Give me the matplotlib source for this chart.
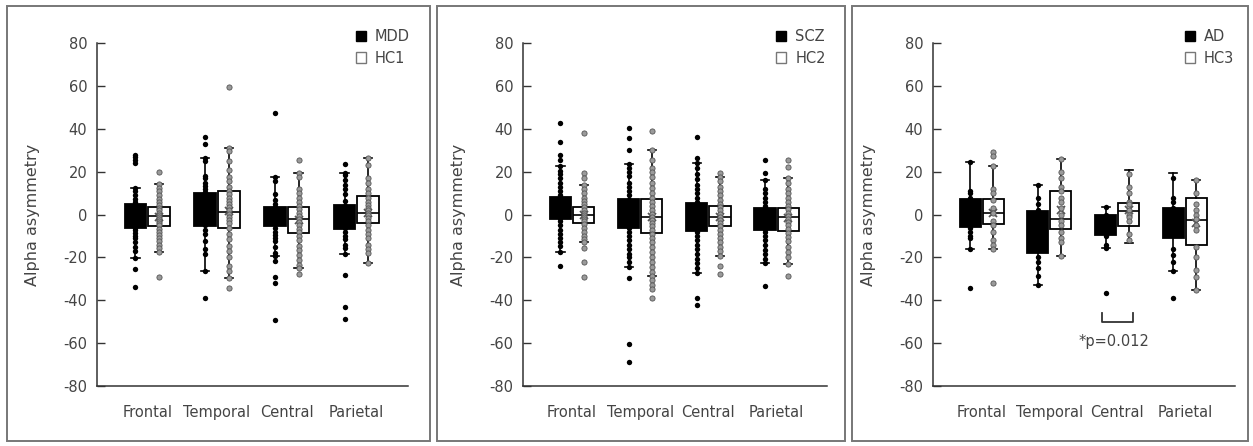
import matplotlib
matplotlib.use("Agg")
import matplotlib.pyplot as plt
from matplotlib.patches import Patch, Rectangle

plt.rcParams['font.family'] = ['DejaVu Sans']
plt.rcParams['axes.unicode_minus'] = False

REGIONS = ["Frontal", "Temporal", "Central", "Parietal"]

# box stats per region: (whisker low, q1, median, q3, whisker high, mean)
MDD_BOX = [(-20.1, -6.1, -0.5, 5.0, 12.6, -0.5), (-26.1, -5.1, 2.0, 10.0, 26.3, 2.0),
           (-19.4, -5.5, -1.0, 3.8, 17.4, -2.0), (-18.6, -6.5, -1.0, 4.4, 19.3, -2.0)]
HC1_BOX = [(-17.6, -5.1, -0.6, 3.4, 14.2, -1.0), (-29.7, -6.4, 1.1, 11.0, 31.3, 1.5),
           (-25.0, -8.5, -2.2, 3.8, 19.5, -2.5), (-22.5, -4.1, 0.6, 8.5, 26.5, 1.0)]
SCZ_BOX = [(-17.6, -2.0, 3.0, 8.4, 22.7, 4.0), (-24.3, -6.2, 0.5, 7.2, 23.5, 0.0),
           (-27.1, -7.8, -1.0, 5.6, 24.0, -1.0), (-22.7, -7.2, -2.0, 3.0, 16.2, -2.0)]
HC2_BOX = [(-12.9, -3.7, -0.2, 3.7, 13.9, 0.0), (-28.6, -8.4, -1.1, 7.2, 30.2, -1.0),
           (-19.1, -5.3, -1.1, 4.2, 17.7, -1.0), (-23.2, -7.8, -1.1, 3.0, 17.0, -1.5)]
AD_BOX = [(-16.0, -5.8, 1.0, 7.5, 24.7, 1.0), (-32.8, -17.8, -8.0, 1.7, 13.8, -8.0),
          (-15.7, -9.5, -5.0, -0.3, 3.4, -6.0), (-26.1, -11.1, -4.0, 3.3, 19.3, -4.0)]
HC3_BOX = [(-16.0, -4.5, 0.6, 7.5, 22.9, 1.0), (-19.1, -6.9, -2.2, 11.0, 26.0, 2.2),
           (-13.1, -5.1, 1.9, 5.6, 20.9, 2.0), (-35.2, -14.2, -2.6, 7.9, 16.2, -4.0)]

# individual subjects per region
MDD_PTS = [
    [27.9, 27.1, 25.5, 24.0, 12.6, 11, 9, 7.5, 6, 5, 4, 3, 2, 1, 0, -1, -2, -3, -4, -5, -6, -7,
     -8.5, -10, -11, -13, -15, -17, -20.1, -25.5, -34.0],
    [36.4, 33, 26.3, 25, 18, 17, 15, 13.5, 12, 10.5, 9, 7, 5, 3, 1, -1, -3, -5, -7, -9, -12.5,
     -16, -18.5, -26.1, -38.8],
    [47.3, 17.4, 15.7, 9.8, 6.9, 5, 3.5, 2, 1, 0, -1, -2, -3, -4.5, -6, -8, -9.5, -11, -12.5,
     -15, -18, -19.4, -21.7, -29.3, -32, -49.3],
    [23.5, 19.3, 18.5, 16, 14, 12, 9.5, 6.5, 4, 2, 0, -2, -4, -6, -8, -10, -11.5, -14, -15.5,
     -18.6, -28.3, -43.3, -48.8],
]
HC1_PTS = [
    [20.1, 14.2, 12.5, 11, 9, 7.5, 6, 4.5, 3, 2, 1, 0, -1, -2, -3, -4, -5, -6.5, -8, -9.5, -11,
     -12.5, -14, -15.5, -17.6, -29.0],
    [59.8, 31.3, 29.5, 25, 21, 17.5, 15.5, 13, 11, 9.5, 8, 6.5, 5, 3.5, 2, 0.5, -1, -2.5, -4,
     -6, -9, -11.5, -14.5, -17, -20, -24, -26.5, -29.7, -34.4],
    [25.5, 19.5, 17.5, 12, 10, 8, 6, 4, 2.5, 1, -0.5, -2, -3.5, -5, -6.5, -8, -10, -12, -14.5,
     -16.5, -19, -21, -23.5, -25, -27.9],
    [26.5, 23, 17, 15, 12, 10, 8, 6, 4.5, 3, 2, 1, 0, -1.5, -3, -5, -7, -9, -11, -14, -16,
     -18, -22.5],
]
SCZ_PTS = [
    [42.6, 34.1, 27.9, 25.5, 22.7, 20.5, 19, 17, 15, 13, 11, 9, 7.5, 6, 4.5, 3, 1.5, 0, -1.5,
     -3, -5, -7, -9, -11, -13, -14.5, -17.6, -23.8],
    [40.3, 35.6, 30.2, 23.5, 22, 20, 18, 15, 13, 11, 9, 7, 5.5, 4, 2.5, 1, 0, -1.5, -3, -4.5,
     -6, -8, -10, -12, -14, -16, -18.5, -20, -22, -24.3, -29.4, -60.4, -69.0],
    [36.1, 26.3, 24, 22, 19, 16.5, 14, 12, 10, 8, 6, 4, 2.5, 1, -0.5, -2, -3.5, -5, -6.5, -8,
     -10, -12, -14, -16, -18.5, -20.5, -22.5, -25, -27.1, -38.8, -42.2],
    [25.5, 19.3, 16.2, 12, 10, 8, 6, 4, 2.5, 1, -0.5, -2, -3.5, -5, -6.5, -8, -10, -12, -14,
     -16.5, -18.5, -20.5, -22.7, -33.2],
]
HC2_PTS = [
    [38, 19.6, 17, 13.9, 12, 10, 8, 6.5, 5, 3.5, 2, 1, 0, -1, -2, -3, -4.5, -6, -8, -10, -11.5,
     -12.9, -15.7, -21.9, -29.0],
    [39.1, 30.2, 25.5, 22, 20, 17.5, 15, 12.5, 10, 8, 6, 4, 2, 0.5, -1, -2.5, -4, -5.5, -7, -9,
     -11, -13, -15, -17.5, -20, -22, -24.5, -27, -28.6, -30.5, -32.8, -34.9, -39.1],
    [19.6, 17.7, 15.5, 13, 11, 9, 7, 5, 3.5, 2, 0.5, -1, -2.5, -4, -5.5, -7, -9, -11, -13, -15,
     -17, -19.1, -23.8, -27.7],
    [25.5, 22.4, 17, 15, 12, 10, 8, 6, 4, 2.5, 1, -0.5, -2, -3.5, -5, -6.5, -8.5, -10.5, -12.5,
     -15, -17.5, -20, -23.2, -28.5],
]
AD_PTS = [
    [24.7, 11, 10, 8, 6, 3, 0, -3, -6, -8, -10, -11, -16, -34.4],
    [13.8, 8, 5, 2, -20, -22, -25, -28.5, -32.8],
    [3.4, 0, -10, -14, -15.7, -36.7],
    [17, 8, 6, 3, -16, -19, -22, -26.1, -39.1],
]
HC3_PTS = [
    [29.2, 27.3, 22.9, 12, 10, 7, 3, 1, -3, -5, -8, -12, -14, -16, -32],
    [26, 20, 17, 13, 11, 8, 6, 3, 0, -3, -5, -8, -11, -13, -19.1],
    [19, 13, 10, 6, 5, 2, 0, -1, -3, -9, -12],
    [16, 10, 5, 2, 0, -2, -5, -7, -15, -20, -26, -29, -35.2],
]

SIG_PANEL = 2          # third panel
SIG_REGION = "Central"
SIG_LABEL = "*p=0.012"

TEXT = "#444444"
OFFSET = 0.17
WIDTH = 0.31


def make_stats(box_rows):
    return [dict(whislo=lo, q1=q1, med=med, q3=q3, whishi=hi, mean=mn, fliers=[])
            for lo, q1, med, q3, hi, mn in box_rows]


def draw_group(ax, box_rows, pts, pos, patient):
    face = "black" if patient else "white"
    mean_col = "black" if patient else "#555555"
    ax.bxp(make_stats(box_rows), positions=pos, widths=WIDTH, capwidths=0.12,
           patch_artist=True, showmeans=True, showfliers=False,
           boxprops=dict(facecolor=face, edgecolor="black", linewidth=1.3),
           medianprops=dict(color="black", linewidth=1.2),
           whiskerprops=dict(color="black", linewidth=1.2),
           capprops=dict(color="black", linewidth=1.2),
           meanprops=dict(marker="x", markeredgecolor=mean_col, markersize=6,
                          markeredgewidth=1.3))
    for x, vals in zip(pos, pts):
        if patient:
            ax.scatter([x] * len(vals), vals, s=15, color="black", zorder=4, linewidths=0)
        else:
            ax.scatter([x] * len(vals), vals, s=14, facecolor="#9a9a9a",
                       edgecolor="#555555", linewidths=0.6, zorder=4)


fig = plt.figure(figsize=(12.53, 4.46), dpi=100)

# panel frames (pixels: left, right)
frames = [(7, 430), (437, 845), (852, 1248)]
for l, r in frames:
    fig.add_artist(Rectangle((l / 1253, 1 - 441 / 446), (r - l) / 1253, 435 / 446,
                             transform=fig.transFigure, fill=False,
                             edgecolor="#777777", linewidth=1.4))

axes_px = [(97, 311), (523, 304), (933, 302)]
panels = [("MDD", "HC1", MDD_BOX, MDD_PTS, HC1_BOX, HC1_PTS),
          ("SCZ", "HC2", SCZ_BOX, SCZ_PTS, HC2_BOX, HC2_PTS),
          ("AD", "HC3", AD_BOX, AD_PTS, HC3_BOX, HC3_PTS)]

for i, ((left, w), (pname, hname, pbox, ppts, hbox, hpts)) in enumerate(zip(axes_px, panels)):
    ax = fig.add_axes([left / 1253, 1 - 386 / 446, w / 1253, 342.7 / 446])
    centers = list(range(1, len(REGIONS) + 1))
    draw_group(ax, pbox, ppts, [c - OFFSET for c in centers], True)
    draw_group(ax, hbox, hpts, [c + OFFSET for c in centers], False)

    ax.set_xlim(0.28, 4.74)
    ax.set_ylim(-80, 80)
    ax.set_yticks(range(-80, 81, 20))
    ax.set_xticks(centers)
    ax.set_xticklabels(REGIONS)
    for s in ["top", "right"]:
        ax.spines[s].set_visible(False)
    for s in ["left", "bottom"]:
        ax.spines[s].set_color("#333333")
        ax.spines[s].set_linewidth(1.1)
    ax.tick_params(axis="y", direction="in", length=6, width=1.0, color="#333333",
                   labelsize=10.5, labelcolor=TEXT, pad=7)
    ax.tick_params(axis="x", length=0, labelsize=10.5, labelcolor=TEXT, pad=14)
    ax.set_ylabel("Alpha asymmetry", fontsize=11.5, color=TEXT)
    ax.yaxis.set_label_coords(-57 / w, 0.5)

    handles = [Patch(facecolor="black", edgecolor="black", label=pname),
               Patch(facecolor="white", edgecolor="#777777", label=hname)]
    ax.legend(handles=handles, loc="upper left", bbox_to_anchor=(0.79, 1.08),
              frameon=False, fontsize=10.5, handlelength=0.7, handleheight=0.7,
              handletextpad=0.6, labelspacing=0.45, labelcolor=TEXT)

    if i == SIG_PANEL:
        c = REGIONS.index(SIG_REGION) + 1
        x0, x1 = c - OFFSET - 0.06, c + OFFSET + 0.06
        ax.plot([x0, x0, x1, x1], [-46, -50.3, -50.3, -46], color="#333333", lw=1.3)
        ax.text(c - 0.04, -59.3, SIG_LABEL, ha="center", va="center", fontsize=10.5,
                color=TEXT)

fig.savefig("out.png", dpi=100)
